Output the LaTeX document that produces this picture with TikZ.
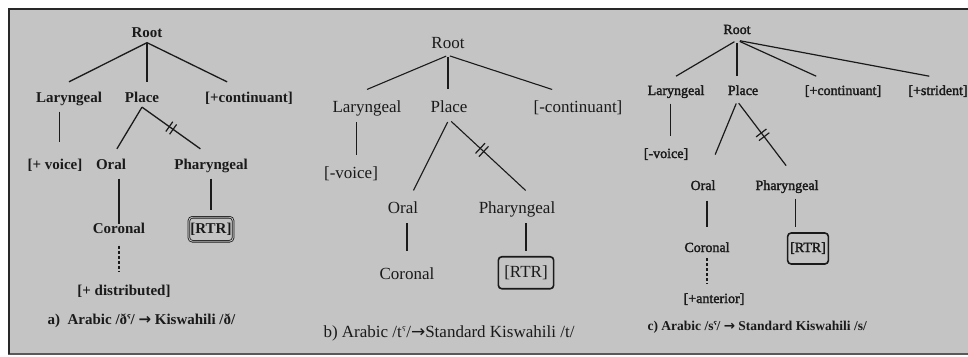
\documentclass[tikz,border=0pt]{standalone}
\usepackage{fontspec}
\usepackage{graphicx}
\setmainfont{Liberation Serif}
\newfontfamily\ipafont{DejaVu Sans}
\newfontfamily\heavyserif{Liberation Serif}[FakeBold=2]
\definecolor{panelgray}{RGB}{196,196,196}
\definecolor{inkgray}{RGB}{26,26,26}
\definecolor{frameink}{RGB}{40,40,40}
\newcommand{\phar}{\raisebox{0.25ex}{\scalebox{0.7}{\ipafont\char"02E4}}}
\newcommand{\goesto}{{\ipafont\char"2192}}
\newcommand{\cutbars}[1]{\rule{1.2pt}{#1}\hspace{3.5pt}\rule{1.2pt}{#1}}
\tikzset{
  feat/.style={inner sep=0pt, anchor=base},
  rtrbox/.style={draw, rounded corners=3.5pt, line width=1.6pt, anchor=base},
  dotstem/.style={dash pattern=on 3pt off 2pt},
  cutmark/.style={inner sep=0pt, sloped},
  caption/.style={inner sep=0pt, anchor=base west}
}
\begin{document}
\begin{tikzpicture}[x=1pt, y=-1pt, color=inkgray]
\useasboundingbox (0,0) rectangle (968,356);
% frame
\fill[white] (0,0) rectangle (968,356);
\fill[panelgray] (8,8) rectangle (968,354);
\draw[line width=1.5pt, draw=gray!70!black] (8,354) -- (968,354);
\draw[line width=2pt, draw=frameink] (9,354) -- (9,9) -- (968,9);

% a) Arabic to Kiswahili
\begin{scope}[font=\fontsize{15}{18}\selectfont\bfseries, line width=1.3pt,
  feat/.append style={text height=19.5pt, text depth=4.5pt}]
\node[feat] (rootA) at (147,37.5) {Root};
\node[feat] (larA) at (69,102) {Laryngeal};
\node[feat] (placeA) at (142,102) {Place};
\node[feat] (contA) at (249,102) {[+continuant]};
\node[feat] (voiceA) at (55,169) {[+ voice]};
\node[feat] (oralA) at (111,169) {Oral};
\node[feat] (pharA) at (211,169) {Pharyngeal};
\node[feat] (corA) at (119,233) {Coronal};
\node[rtrbox, line width=0.8pt, double=panelgray, double distance=0.9pt,
  inner xsep=1.5pt, inner ysep=4.5pt, text height=11.25pt, text depth=3.75pt] (rtrA) at (211,233) {[RTR]};
\node[feat] (distA) at (124,295) {[+ distributed]};
\node[caption] (capA) at (47,324) {a)\ \ Arabic /ð\phar/ \goesto\ Kiswahili /ð/};
\draw (rootA.south) -- (larA.north);
\draw (rootA.south) -- (rootA.south |- placeA.north);
\draw (rootA.south) -- (contA.150);
\draw (placeA.south) -- (oralA.65);
\draw (placeA.south) -- node[cutmark, pos=.5] (cutA) {\cutbars{12pt}} (pharA.130);
\draw[shorten <=4.5pt, shorten >=6.5pt] (larA.south -| voiceA.70) -- (voiceA.70);
\draw[shorten <=4.5pt, shorten >=-11.5pt] (oralA.south -| corA) -- (corA.north);
\draw[shorten <=4.5pt, shorten >=7pt] (pharA.south -| rtrA) -- (rtrA.north);
\draw[dotstem, shorten <=7.5pt, shorten >=2.5pt] (corA.south) -- (corA.south |- distA.north);
\end{scope}

% b) Arabic to Standard Kiswahili, /t/
\begin{scope}[font=\fontsize{17}{20}\selectfont, line width=1.1pt,
  feat/.append style={text height=22pt, text depth=6.8pt}]
\node[feat] (rootB) at (448,48) {Root};
\node[feat] (larB) at (367,112) {Laryngeal};
\node[feat] (placeB) at (449,112) {Place};
\node[feat] (contB) at (578,112) {[-continuant]};
\node[feat] (voiceB) at (351,178) {[-voice]};
\node[feat] (oralB) at (403,213) {Oral};
\node[feat] (pharB) at (517,213) {Pharyngeal};
\node[feat] (corB) at (407,279) {Coronal};
\node[rtrbox, inner xsep=6pt, inner ysep=7.5pt, text height=12.75pt, text depth=4.25pt] (rtrB) at (526,277) {[RTR]};
\node[caption] (capB) at (323,337) {b) Arabic /t\phar/\goesto Standard Kiswahili /t/};
\draw[shorten <=2pt] (rootB.south) -- (larB.north);
\draw[shorten <=2pt] (rootB.south) -- (rootB.south |- placeB.north);
\draw[shorten <=2pt] (rootB.south) -- (contB.150);
\draw[shorten <=3pt] (placeB.south) -- (oralB.55);
\draw[shorten <=3pt] (placeB.south) -- node[cutmark, pos=.43] (cutB) {\cutbars{14pt}} (pharB.60);
\draw[shorten <=3pt] (larB.south -| voiceB.70) -- (voiceB.70);
\draw[shorten <=3pt, shorten >=5pt] (oralB.south -| corB) -- (corB.north);
\draw[shorten <=3pt, shorten >=5pt] (pharB.south -| rtrB) -- (rtrB.north);
\end{scope}

% c) Arabic to Standard Kiswahili, /s/
\begin{scope}[font=\fontsize{14}{17}\selectfont\heavyserif, line width=1.2pt,
  feat/.append style={text height=18.2pt, text depth=5.6pt}]
\node[feat] (rootC) at (737,34) {Root};
\node[feat] (larC) at (676,95) {Laryngeal};
\node[feat] (placeC) at (743,95) {Place};
\node[feat] (contC) at (843,95) {[+continuant]};
\node[feat] (stridC) at (938,95) {[+strident]};
\node[feat] (voiceC) at (666,158) {[-voice]};
\node[feat] (oralC) at (703,190) {Oral};
\node[feat] (pharC) at (787,190) {Pharyngeal};
\node[feat] (corC) at (707,252) {Coronal};
\node[rtrbox, inner xsep=2.5pt, inner ysep=8.5pt, text height=10.5pt, text depth=3.5pt] (rtrC) at (808,252) {[RTR]};
\node[feat] (antC) at (714,303) {[+anterior]};
\node[caption, font=\fontsize{13.5}{16}\selectfont\bfseries] (capC) at (647,330) {c) Arabic /s\phar/ \goesto\ Standard Kiswahili /s/};
\draw[shorten <=3pt] (rootC.south) -- (larC.north);
\draw[shorten <=3pt] (rootC.south) -- (rootC.south |- placeC.north);
\draw[shorten <=3pt] (rootC.south) -- (contC.155);
\draw[shorten <=3pt] (rootC.south) -- (stridC.125);
\draw[shorten <=2.5pt, shorten >=18pt] (placeC.245) -- (oralC.67);
\draw[shorten <=2.5pt, shorten >=7pt] (placeC.245) -- node[cutmark, pos=.48] (cutC) {\cutbars{13pt}} (pharC.75);
\draw[shorten <=2.5pt, shorten >=3pt] (larC.south -| voiceC.70) -- (voiceC.70);
\draw[shorten <=4.4pt, shorten >=5.8pt] (oralC.south -| corC) -- (corC.north);
\draw[shorten <=2.4pt, shorten >=5pt] (pharC.south -| rtrC.128) -- (rtrC.128);
\draw[dotstem] (corC.south) -- (corC.south |- antC.north);
\end{scope}
\end{tikzpicture}
\end{document}
